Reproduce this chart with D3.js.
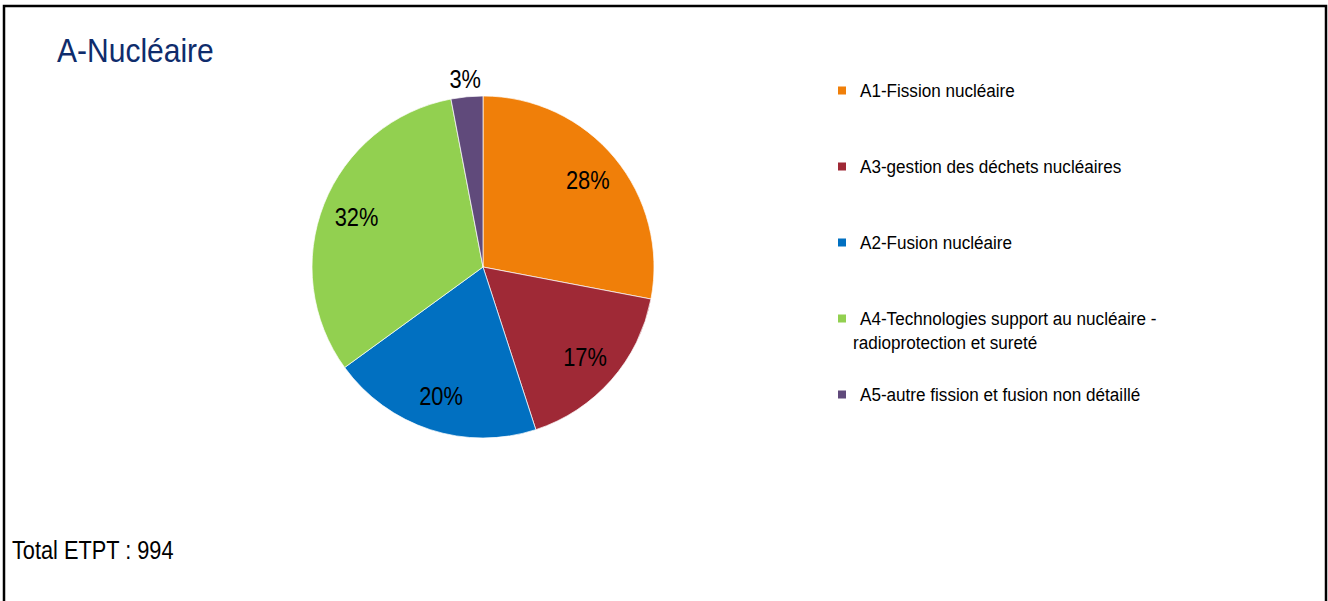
<!DOCTYPE html>
<html>
<head>
<meta charset="utf-8">
<script src="https://cdn.jsdelivr.net/npm/d3@7"></script>
<style>
  body { margin: 0; background: #fff; }
  svg text { font-family: 'Liberation Sans Narrow', 'Arial Narrow', 'Liberation Sans', Arial, sans-serif; }
</style>
</head>
<body>
<svg id="chart" width="1328" height="601"></svg>
<script>
// data
const categories = ['A1-Fission nucléaire', 'A3-gestion des déchets nucléaires', 'A2-Fusion nucléaire',
                    'A4-Technologies support au nucléaire - radioprotection et sureté', 'A5-autre fission et fusion non détaillé'];
const shares = [28, 17, 20, 32, 3];
const colors = ['#f07f09', '#9f2936', '#0170c1', '#92d050', '#604a7b'];
const legendLines = [['A1-Fission nucléaire'], ['A3-gestion des déchets nucléaires'], ['A2-Fusion nucléaire'],
                     ['A4-Technologies support au nucléaire -', 'radioprotection et sureté'], ['A5-autre fission et fusion non détaillé']];
const totalEtpt = 994;

// no narrow font installed, so squeeze the regular one horizontally
function narrow(x, y, sx) {
    return `translate(${x},${y}) scale(${sx},1)`;
}

const svg = d3.select('#chart');

// outer frame
svg.append('rect')
    .attr('x', 4).attr('y', 6)
    .attr('width', 1322).attr('height', 610)
    .attr('fill', 'none').attr('stroke', '#000').attr('stroke-width', 2.5);

svg.append('text')
    .attr('transform', narrow(57, 62, 0.91))
    .attr('fill', '#0f2c6c')
    .style('font-size', '33px')
    .text('A-Nucléaire');

const cx = 483, cy = 267, r = 171;
const data = categories.map((c, i) => ({name: c, value: shares[i], color: colors[i]}));

const pie = d3.pie().sort(null).value(d => d.value);
const arc = d3.arc().innerRadius(0).outerRadius(r);
const labelArc = d3.arc().innerRadius(136).outerRadius(136);
const outerArc = d3.arc().innerRadius(r + 18).outerRadius(r + 18);

const g = svg.append('g').attr('transform', `translate(${cx},${cy})`);
const arcs = pie(data);

g.selectAll('path')
    .data(arcs)
    .enter().append('path')
    .attr('d', arc)
    .attr('fill', d => d.data.color)
    .attr('stroke', '#fff')
    .attr('stroke-width', 0.7);

g.selectAll('text.lbl')
    .data(arcs)
    .enter().append('text')
    .attr('class', 'lbl')
    .attr('transform', d => {
        const p = d.data.value < 5 ? outerArc.centroid(d) : labelArc.centroid(d);
        return narrow(p[0], p[1], 0.84);
    })
    .attr('text-anchor', 'middle')
    .attr('dy', '0.35em')
    .attr('fill', '#000')
    .style('font-size', '26px')
    .text(d => d.data.value + '%');

// legend
const legend = svg.append('g').attr('transform', 'translate(838,0)');
const legendY = d3.scalePoint().domain(categories).range([90.5, 394.5]);

const items = legend.selectAll('g')
    .data(data)
    .enter().append('g')
    .attr('transform', d => `translate(0,${legendY(d.name)})`);

items.append('rect')
    .attr('x', 0).attr('y', -4)
    .attr('width', 8).attr('height', 8)
    .attr('fill', d => d.color);

items.selectAll('text')
    .data((d, i) => legendLines[i].map((t, j) => ({t, j})))
    .enter().append('text')
    .attr('transform', d => narrow(d.j === 0 ? 22 : 15, 6.5 + d.j * 24, 0.9))
    .attr('fill', '#000')
    .style('font-size', '19px')
    .text(d => d.t);

svg.append('text')
    .attr('transform', narrow(12, 559, 0.87))
    .attr('fill', '#000')
    .style('font-size', '25px')
    .text('Total ETPT : ' + totalEtpt);
</script>
</body>
</html>
